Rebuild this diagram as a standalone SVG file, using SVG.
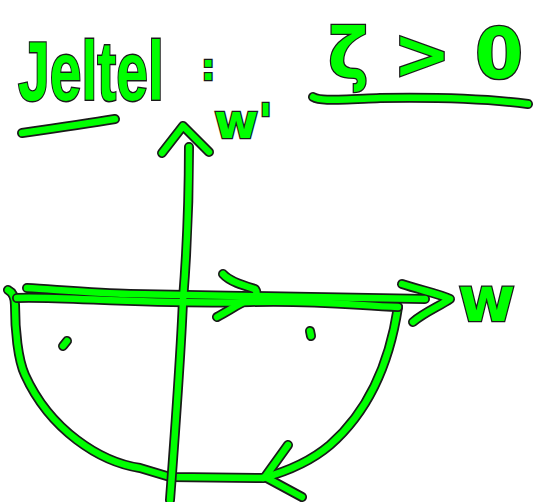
<svg xmlns="http://www.w3.org/2000/svg" width="534" height="502" viewBox="0 0 534 502">
<style>
.o{fill:none;stroke:#1a1a1a;stroke-width:10;stroke-linecap:round;stroke-linejoin:round}
.g{fill:none;stroke:#00ff00;stroke-width:6.5;stroke-linecap:round;stroke-linejoin:round}
.t{font-family:"DejaVu Sans",sans-serif;font-weight:bold;fill:#00ff00;stroke:#1a1a1a;stroke-width:2.5;paint-order:stroke}
</style>
<defs>
<path id="ul1" d="M22,133 C50,129 85,124 115,119"/>
<path id="ul2" d="M313,97 C320,101 330,100 380,98 C440,97 490,99 528,104"/>
<path id="vax" d="M189,147 C189,200 187,250 183,300 C181,350 176,420 170,500"/>
<path id="vah" d="M162,153 L183,126 L209,152"/>
<path id="hax1" d="M27,288 C60,290 100,293 130,294 L425,299"/>
<path id="hax2" d="M17,298 C60,296 150,305 250,302 C320,300 360,306 398,307"/>
<path id="hah" d="M402,284 C420,290 440,294 450,299 C440,306 425,312 413,322"/>
<path id="mah" d="M223,274 C230,282 245,286 255,289 C258,293 256,296 252,298 C240,303 230,310 217,317"/>
<path id="arcL" d="M8,290 C12,292 15,296 15,305 C15,330 18,360 25,375 C50,430 100,462 140,468 L170,477 L263,478"/>
<path id="arcR" d="M398,307 C390,360 370,410 330,445 C310,462 285,472 263,478"/>
<path id="bah" d="M288,445 L265,477 L302,497"/>
<path id="d1" d="M63,346 L67,341"/>
<path id="d2" d="M310,331 L311,336"/>
</defs>
<g id="title">
<text class="t" transform="translate(18,100) scale(0.95,1.4)" x="0" y="0" font-size="60" style="font-family:'Liberation Sans',sans-serif;stroke-width:2">Jeltel</text>
<text class="t" x="201" y="80" font-size="36">:</text>
<use href="#ul1" class="o"/><use href="#ul1" class="g"/>
</g>
<g id="condition">
<text class="t" x="328" y="78" font-size="70" textLength="195" lengthAdjust="spacingAndGlyphs">ζ &gt; 0</text>
<use href="#ul2" class="o"/><use href="#ul2" class="g"/>
</g>
<g id="region">
<use href="#arcL" class="o"/><use href="#arcR" class="o"/><use href="#bah" class="o"/>
<use href="#d1" class="o"/><use href="#d2" class="o"/>
<use href="#arcL" class="g"/><use href="#arcR" class="g"/><use href="#bah" class="g"/>
<use href="#d1" class="g"/><use href="#d2" class="g"/>
</g>
<g id="axes">
<use href="#hax1" class="o"/><use href="#hax2" class="o"/><use href="#hah" class="o"/><use href="#mah" class="o"/>
<use href="#vax" class="o"/><use href="#vah" class="o"/>
<use href="#hax1" class="g"/><use href="#hax2" class="g"/><use href="#hah" class="g"/><use href="#mah" class="g"/>
<use href="#vax" class="g"/><use href="#vah" class="g"/>
</g>
<g id="labels">
<text class="t" x="214" y="138" font-size="48">w'</text>
<text class="t" x="458" y="321" font-size="62">w</text>
</g>
</svg>
